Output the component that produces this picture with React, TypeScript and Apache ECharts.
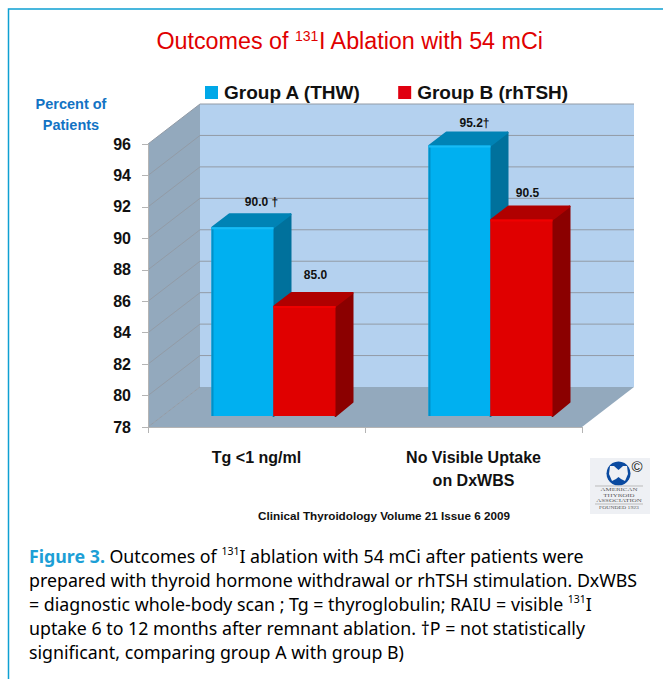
import React, { useEffect, useRef } from "react";
import * as echarts from "echarts";

const categories = ["Tg <1 ng/ml", "No Visible Uptake\non DxWBS"];
const groupAName = "Group A (THW)";
const groupBName = "Group B (rhTSH)";
const groupAValues = [90.0, 95.2];
const groupBValues = [85.0, 90.5];
const groupALabels = ["90.0 †", "95.2†"];
const groupBLabels = ["85.0", "90.5"];
const yMin = 78;
const yMax = 96;
const yStep = 2;
const captionLines = [
  [["fig", "Figure 3."], ["cap", " Outcomes of "], ["sup", "131"], ["cap", "I ablation with 54 mCi after patients were"]],
  [["cap", "prepared with thyroid hormone withdrawal or rhTSH stimulation. DxWBS"]],
  [["cap", "= diagnostic whole-body scan ; Tg = thyroglobulin; RAIU = visible "], ["sup", "131"], ["cap", "I"]],
  [["cap", "uptake 6 to 12 months after remnant ablation. †P = not statistically"]],
  [["cap", "significant, comparing group A with group B)"]],
];

const SANS = '"Liberation Sans", Arial, sans-serif';
const CAPTION = '"Noto Sans", sans-serif';

// 3D layout (offsets in px)
const WALL_DX = 52;
const WALL_DY = -40;
const BAR_SHIFT_X = 17;
const BAR_SHIFT_Y = -11;
const BAR_W = 62;
const BAR_DX = 18;
const BAR_DY = -14;
const labelOffsetsA = [[19, -25], [15, -23]];
const labelOffsetsB = [[11, -31], [6, -26]];

function wallRender(params: any, api: any) {
  if (params.dataIndex !== 0) return { type: "group", children: [] };
  const c = params.coordSys;
  const l = c.x, r = c.x + c.width, t = c.y, b = c.y + c.height;
  const children: any[] = [
    { type: "polygon", shape: { points: [[l, t], [l + WALL_DX, t + WALL_DY], [l + WALL_DX, b + WALL_DY], [l, b]] }, style: { fill: "#93a9bd" } },
    { type: "rect", shape: { x: l + WALL_DX, y: t + WALL_DY, width: r - l, height: b - t }, style: { fill: "#b4d1ef" } },
    { type: "polygon", shape: { points: [[l, b], [l + WALL_DX, b + WALL_DY], [r + WALL_DX, b + WALL_DY], [r, b]] }, style: { fill: "#93a9bd" } },
  ];
  for (let v = yMin; v <= yMax; v += yStep) {
    const y = api.coord([0, v])[1];
    const lineStyle = { stroke: "#929ba6", lineWidth: 1 };
    children.push({ type: "line", shape: { x1: l, y1: y, x2: l + WALL_DX, y2: y + WALL_DY }, style: lineStyle });
    if (v > yMin) children.push({ type: "line", shape: { x1: l + WALL_DX, y1: y + WALL_DY, x2: r + WALL_DX, y2: y + WALL_DY }, style: lineStyle });
  }
  return { type: "group", children };
}

function barRender(side: number, labels: string[], offsets: number[][], colors: any) {
  return (params: any, api: any) => {
    const cat = api.value(0);
    const top = api.coord([cat, api.value(1)]);
    const base = api.coord([cat, yMin]);
    const x0 = top[0] + BAR_SHIFT_X + (side < 0 ? -BAR_W : 0);
    const x1 = x0 + BAR_W;
    const yT = top[1] + BAR_SHIFT_Y;
    const yB = base[1] + BAR_SHIFT_Y;
    const off = offsets[params.dataIndex];
    return {
      type: "group",
      children: [
        { type: "polygon", shape: { points: [[x1, yT], [x1 + BAR_DX - 1, yT + BAR_DY + 1], [x1 + BAR_DX - 1, yB + BAR_DY], [x1, yB]] }, style: { fill: colors.side, stroke: colors.side, lineWidth: 2, lineJoin: "round" } },
        { type: "polygon", shape: { points: [[x0 + 1, yT], [x0 + BAR_DX, yT + BAR_DY + 1], [x1 + BAR_DX - 1, yT + BAR_DY + 1], [x1, yT]] }, style: { fill: colors.top, stroke: colors.top, lineWidth: 2, lineJoin: "round" } },
        { type: "rect", shape: { x: x0, y: yT, width: BAR_W, height: yB - yT }, style: { fill: colors.front } },
        { type: "rect", shape: { x: x0, y: yT, width: 2, height: yB - yT }, style: { fill: colors.edge } },
        { type: "rect", shape: { x: x0, y: yT, width: BAR_W, height: 2 }, style: { fill: colors.light } },
        {
          type: "text",
          style: {
            x: (x0 + x1) / 2 + off[0],
            y: yT + off[1],
            text: labels[params.dataIndex],
            fill: "#111",
            font: `bold 12px ${SANS}`,
            align: "center",
            verticalAlign: "middle",
          },
        },
      ],
    };
  };
}

function captionGraphics() {
  const rich = {
    fig: { font: `bold 17.8px ${CAPTION}`, fill: "#1d9fd6", color: "#1d9fd6", lineHeight: 22, height: 22 },
    cap: { font: `17.8px ${CAPTION}`, color: "#444444", lineHeight: 22, height: 22 },
    sup: { font: `10.5px ${CAPTION}`, color: "#444444", verticalAlign: "top", lineHeight: 12 },
  };
  return captionLines.map((line, i) => ({
    type: "text",
    left: 29,
    top: 545 + i * 24,
    style: {
      text: line.map(([k, t]) => `{${k}|${t}}`).join(""),
      rich,
      font: `17.8px ${CAPTION}`,
    },
  }));
}

function logoGraphics() {
  const serif = '"Liberation Serif", serif';
  const t = (y: number, text: string, size = 4.8, sx = 1.45) => ({
    type: "text",
    x: 619,
    y,
    scaleX: sx,
    style: { x: 0, y: 0, text, fill: "#555", font: `${size}px ${serif}`, align: "center", verticalAlign: "middle" },
  });
  return [
    { type: "rect", shape: { x: 590, y: 458, width: 60, height: 56 }, style: { fill: "#eef0f4" } },
    { type: "circle", shape: { cx: 618.5, cy: 473.5, r: 12 }, style: { fill: "#0a4aa0" } },
    { type: "polygon", shape: { points: [[610, 466], [614, 466], [618.5, 470], [623, 466], [627, 466], [628, 474], [625, 481], [621, 479], [618.5, 477], [616, 479], [612, 481], [609, 474]] }, style: { fill: "#eef0f4" } },
    { type: "text", style: { x: 637, y: 466, text: "©", fill: "#111", font: `15px ${SANS}`, align: "center", verticalAlign: "middle" } },
    { type: "line", shape: { x1: 595, y1: 486, x2: 643, y2: 486 }, style: { stroke: "#bbb", lineWidth: 1 } },
    t(489.8, "AMERICAN"),
    t(495.3, "THYROID"),
    t(500.8, "ASSOCIATION"),
    { type: "line", shape: { x1: 595, y1: 504, x2: 643, y2: 504 }, style: { stroke: "#bbb", lineWidth: 1 } },
    t(507.8, "FOUNDED 1923", 3.8, 1.5),
  ];
}

export default function App() {
  const ref = useRef<HTMLDivElement>(null);
  useEffect(() => {
    const chart = echarts.init(ref.current!, undefined, { renderer: "svg" });
    chart.setOption({
      animation: false,
      backgroundColor: "#fff",
      title: {
        left: 345,
        top: 24,
        textAlign: "center",
        text: "{t|Outcomes of }{s|131}{t|I Ablation with 54 mCi}",
        textStyle: {
          fontWeight: "normal",
          rich: {
            t: { fontFamily: SANS, fontWeight: "normal", fontSize: 23.3, color: "#e00000" },
            s: { fontFamily: SANS, fontWeight: "normal", fontSize: 14, color: "#e00000", verticalAlign: "top", padding: [0, 0, 10, 0] },
          },
        },
      },
      legend: {
        left: 200,
        top: 78,
        itemWidth: 13,
        itemHeight: 13,
        itemGap: 37,
        icon: "rect",
        data: [groupAName, groupBName],
        textStyle: { fontFamily: SANS, fontWeight: "bold", fontSize: 19, color: "#111", padding: [0, 0, 0, 1] },
      },
      grid: { left: 148, right: 81, top: 144, bottom: 252, containLabel: false },
      xAxis: {
        type: "category",
        data: categories,
        z: 2,
        axisLine: { lineStyle: { color: "#b4b4b4", width: 1 } },
        axisTick: { show: true, length: 6, alignWithLabel: false, lineStyle: { color: "#b4b4b4" } },
        axisLabel: { fontFamily: SANS, fontWeight: "bold", fontSize: 16, color: "#111", lineHeight: 23, margin: 19, interval: 0 },
        splitLine: { show: false },
      },
      yAxis: {
        type: "value",
        min: yMin,
        max: yMax,
        interval: yStep,
        z: 2,
        axisLine: { show: true, lineStyle: { color: "#b4b4b4", width: 1 } },
        axisTick: { show: true, length: 6, lineStyle: { color: "#b4b4b4" } },
        axisLabel: { fontFamily: SANS, fontWeight: "bold", fontSize: 16, color: "#111", margin: 17 },
        splitLine: { show: false },
      },
      series: [
        { type: "custom", silent: true, z: 1, renderItem: wallRender, data: [[0, yMin]], encode: { x: 0, y: 1 } },
        {
          name: groupAName, type: "custom", z: 3,
          itemStyle: { color: "#00a8e8" },
          renderItem: barRender(-1, groupALabels, labelOffsetsA, { front: "#00b0f0", side: "#00719c", top: "#0083b5", edge: "#0090c8", light: "#18bcf5" }),
          data: groupAValues.map((v, i) => [i, v]),
          encode: { x: 0, y: 1 },
        },
        {
          name: groupBName, type: "custom", z: 4,
          itemStyle: { color: "#e00010" },
          renderItem: barRender(1, groupBLabels, labelOffsetsB, { front: "#e00000", side: "#8b0000", top: "#b00000", edge: "#e00000", light: "#f00000" }),
          data: groupBValues.map((v, i) => [i, v]),
          encode: { x: 0, y: 1 },
        },
      ],
      graphic: [
        { type: "polyline", shape: { points: [[8.5, 679], [8.5, 9], [663, 9]] }, style: { stroke: "#0ea0d2", fill: "none", lineWidth: 1.5 } },
        { type: "text", style: { x: 71, y: 104, text: "Percent of", fill: "#1273c4", font: `bold 14.5px ${SANS}`, align: "center", verticalAlign: "middle" } },
        { type: "text", style: { x: 71, y: 125, text: "Patients", fill: "#1273c4", font: `bold 14.5px ${SANS}`, align: "center", verticalAlign: "middle" } },
        { type: "text", style: { x: 384, y: 515, text: "Clinical Thyroidology Volume 21 Issue 6 2009", fill: "#111", font: `bold 11.7px ${SANS}`, align: "center", verticalAlign: "middle" } },
        ...logoGraphics(),
        ...captionGraphics(),
      ],
    });
    return () => chart.dispose();
  }, []);
  return <div ref={ref} style={{ position: "fixed", left: 0, top: 0, width: 663, height: 679 }} />;
}
